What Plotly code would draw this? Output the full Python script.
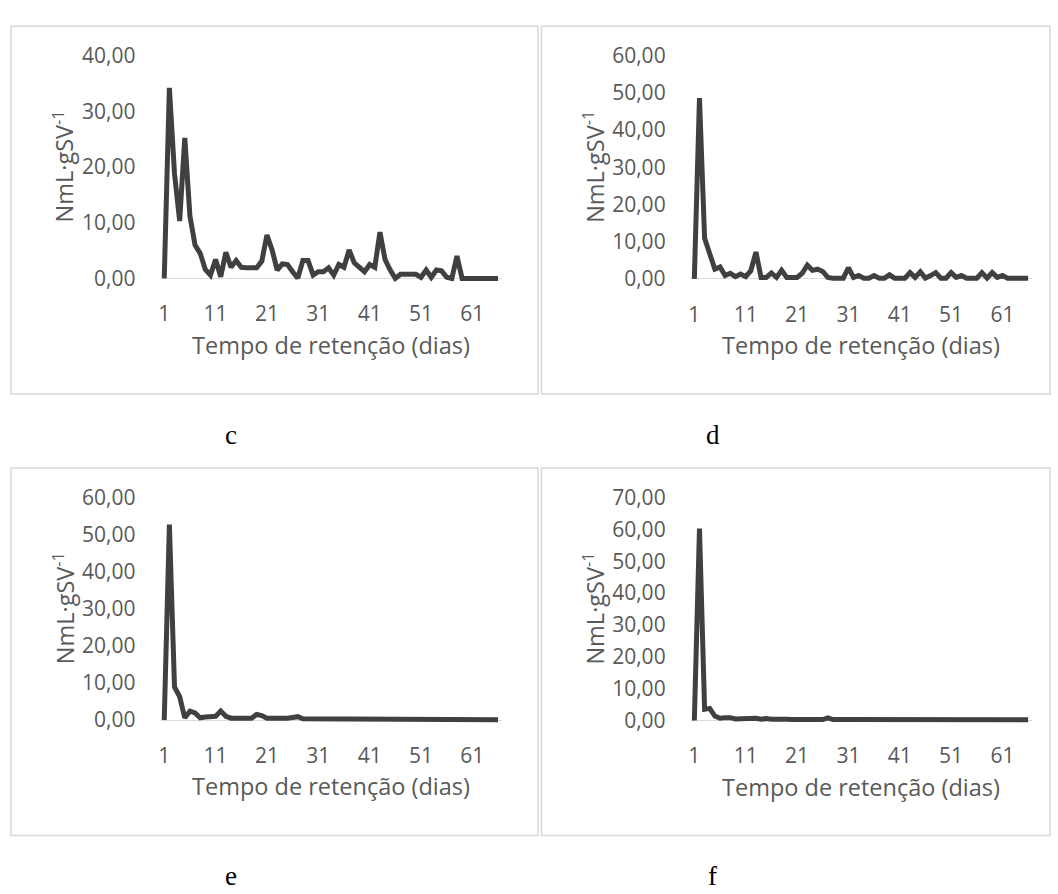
import plotly.graph_objects as go

# Daily specific biogas production (NmL·gSV-1) over the retention period
dias = list(range(1, 67))

serie_c = [0.0, 34.2, 18.8, 10.3, 25.2, 11.2, 6.0, 4.5, 1.6, 0.6,
           3.4, 0.3, 4.7, 2.0, 3.2, 2.0, 1.9, 1.9, 1.9, 3.1,
           7.8, 5.1, 1.5, 2.6, 2.5, 1.2, 0.05, 3.2, 3.2, 0.6,
           1.2, 1.2, 1.9, 0.6, 2.5, 2.0, 5.1, 2.8, 2.0, 1.2,
           2.5, 2.0, 8.3, 3.4, 1.5, 0.0, 0.75, 0.75, 0.75, 0.75,
           0.2, 1.5, 0.2, 1.5, 1.35, 0.2, 0.0, 4.0, 0.0, 0.0,
           0.0, 0.0, 0.0, 0.0, 0.0, 0.0]

serie_d = [0.0, 48.6, 10.9, 6.5, 2.6, 3.2, 0.9, 1.5, 0.6, 1.3,
           0.6, 2.2, 7.2, 0.4, 0.4, 1.6, 0.4, 2.3, 0.4, 0.4,
           0.4, 1.5, 3.7, 2.3, 2.6, 2.0, 0.4, 0.2, 0.2, 0.2,
           3.0, 0.4, 0.9, 0.2, 0.2, 0.9, 0.2, 0.2, 1.1, 0.2,
           0.2, 0.2, 1.7, 0.4, 1.9, 0.2, 0.9, 1.7, 0.2, 0.2,
           1.7, 0.4, 0.9, 0.2, 0.2, 0.2, 1.7, 0.2, 1.7, 0.4,
           0.9, 0.2, 0.2, 0.2, 0.2, 0.2]

serie_e = [0.0, 52.7, 8.9, 6.3, 0.6, 2.4, 1.9, 0.6, 0.8, 0.8,
           1.0, 2.4, 1.0, 0.5, 0.35, 0.5, 0.5, 0.5, 1.5, 1.2,
           0.5, 0.45, 0.7, 0.5, 0.5, 0.7, 0.9, 0.35, 0.3, 0.3,
           0.3, 0.3, 0.3, 0.25, 0.25, 0.25, 0.25, 0.25, 0.2, 0.2,
           0.3, 0.4, 0.3, 0.2, 0.2, 0.2, 0.2, 0.2, 0.2, 0.2,
           0.2, 0.2, 0.15, 0.15, 0.15, 0.15, 0.15, 0.3, 0.15, 0.1,
           0.1, 0.1, 0.1, 0.1, 0.1, 0.1]

serie_f = [0.0, 60.2, 3.5, 3.8, 1.4, 0.7, 0.9, 0.9, 0.5, 0.6,
           0.6, 0.9, 0.7, 0.4, 0.6, 0.4, 0.5, 0.4, 0.4, 0.35,
           0.35, 0.35, 0.35, 0.3, 0.3, 0.3, 0.8, 0.3, 0.3, 0.3,
           0.3, 0.3, 0.3, 0.3, 0.3, 0.3, 0.3, 0.3, 0.3, 0.3,
           0.3, 0.3, 0.3, 0.3, 0.3, 0.3, 0.3, 0.3, 0.3, 0.3,
           0.3, 0.25, 0.25, 0.25, 0.25, 0.3, 0.3, 0.3, 0.25, 0.25,
           0.25, 0.25, 0.2, 0.2, 0.2, 0.2]

rotulos_x = ["1", "11", "21", "31", "41", "51", "61"]
valores_x = [1, 11, 21, 31, 41, 51, 61]
y_max = {"c": 40, "d": 60, "e": 60, "f": 70}
letras = ["c", "d", "e", "f"]
series = {"c": serie_c, "d": serie_d, "e": serie_e, "f": serie_f}

W, H = 1058, 894
TXT = "#595959"
LINHA = "#404040"
GRADE = "#d9d9d9"
FONTE = "Open Sans"
PAD = 3.5  # pixels of breathing room so the thick line is not clipped

# Pixel geometry of each panel: day-1 x, zero-y, top-y and the frame box
geo = {
    "c": dict(x0=161.7, y0=271.0, ytop=41.7, box=(8, 11.7, 536.5, 390)),
    "d": dict(x0=693.3, y0=271.5, ytop=41.7, box=(540, 11.7, 1050, 390)),
    "e": dict(x0=161.7, y0=725.3, ytop=496.3, box=(8, 466, 536.5, 844)),
    "f": dict(x0=693.3, y0=725.8, ytop=496.3, box=(540, 466, 1050, 844)),
}
STEP = 5.15

fig = go.Figure()
shapes, annots = [], []

for i, k in enumerate(letras):
    g = geo[k]
    n = i + 1
    xa = "x" if n == 1 else f"x{n}"
    ya = "y" if n == 1 else f"y{n}"
    xk = "xaxis" if n == 1 else f"xaxis{n}"
    yk = "yaxis" if n == 1 else f"yaxis{n}"

    x_end = g["x0"] + STEP * (dias[-1] - dias[0])
    ppu = (g["y0"] - g["ytop"]) / y_max[k]
    padx = PAD / STEP
    pady = PAD / ppu

    fig.add_trace(go.Scatter(
        x=dias, y=series[k], mode="lines", xaxis=xa, yaxis=ya,
        line=dict(color=LINHA, width=5), showlegend=False,
        hoverinfo="x+y"))

    fig.layout[xk] = dict(
        domain=[(g["x0"] - PAD) / W, (x_end + PAD) / W],
        range=[dias[0] - padx, dias[-1] + padx],
        tickvals=valores_x, ticktext=rotulos_x,
        showgrid=False, zeroline=False, showline=False,
        ticks="outside", ticklen=13, tickcolor="rgba(0,0,0,0)",
        tickfont=dict(family=FONTE, size=21, color=TXT),
        anchor=ya, fixedrange=True)
    fig.layout[yk] = dict(
        domain=[1 - (g["y0"] + PAD) / H, 1 - g["ytop"] / H],
        range=[-pady, y_max[k]],
        tickvals=list(range(0, y_max[k] + 1, 10)),
        tickformat=".2f",
        showgrid=False, zeroline=True, zerolinecolor=GRADE, zerolinewidth=1.2,
        showline=False,
        ticks="outside", ticklen=20, tickcolor="rgba(0,0,0,0)",
        tickfont=dict(family=FONTE, size=21, color=TXT),
        anchor=xa, fixedrange=True)

    bx0, by0, bx1, by1 = g["box"]
    shapes.append(dict(type="rect", xref="paper", yref="paper",
                       x0=bx0 / W, x1=bx1 / W, y0=1 - by1 / H, y1=1 - by0 / H,
                       line=dict(color=GRADE, width=1.5), layer="below"))

    cx = (g["x0"] + x_end) / 2
    annots.append(dict(text="Tempo de retenção (dias)", xref="paper", yref="paper",
                       x=cx / W, y=1 - (g["y0"] + 68) / H, showarrow=False,
                       xanchor="center", yanchor="middle",
                       font=dict(family=FONTE, size=23.5, color=TXT)))
    annots.append(dict(text="NmL·gSV<sup>-1</sup>", xref="paper", yref="paper",
                       x=(g["x0"] - 101) / W, y=1 - ((g["y0"] + g["ytop"]) / 2) / H,
                       showarrow=False, textangle=-90,
                       xanchor="center", yanchor="middle",
                       font=dict(family=FONTE, size=23.5, color=TXT)))
    annots.append(dict(text=k, xref="paper", yref="paper",
                       x=(229 if k in "ce" else 712) / W,
                       y=1 - (by1 + 42) / H, showarrow=False,
                       xanchor="center", yanchor="middle",
                       font=dict(family="Liberation Serif", size=27, color="#000000")))

fig.update_layout(
    width=W, height=H, margin=dict(l=0, r=0, t=0, b=0),
    paper_bgcolor="white", plot_bgcolor="white",
    separators=",.", shapes=shapes, annotations=annots,
)

fig.write_html("out.html")
